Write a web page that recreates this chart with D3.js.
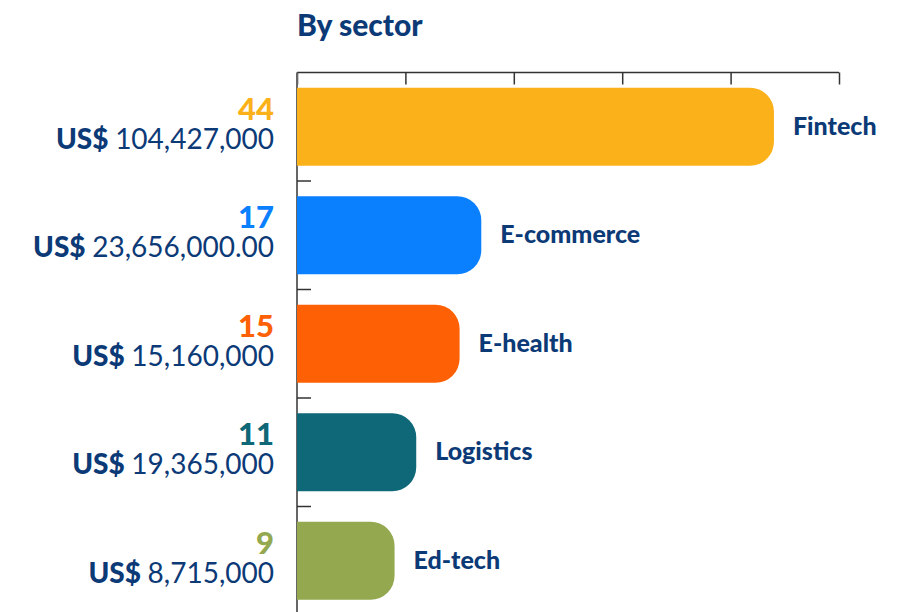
<!DOCTYPE html>
<html>
<head>
<meta charset="utf-8">
<script src="https://cdn.jsdelivr.net/npm/d3@7"></script>
<style>
  html, body { margin: 0; padding: 0; background: #fff; }
  svg { display: block; }
</style>
</head>
<body>
<svg id="chart" width="904" height="612"></svg>
<script>
// Deals by sector: number of deals and total amount raised
const sectors = ["Fintech", "E-commerce", "E-health", "Logistics", "Ed-tech"];
const dealCounts = [44, 17, 15, 11, 9];
const amounts = ["104,427,000", "23,656,000.00", "15,160,000", "19,365,000", "8,715,000"];
const sectorColors = ["#fbb11a", "#0a80fe", "#fe6105", "#0f6878", "#93a84f"];
const xTicks = [0, 10, 20, 30, 40, 50];

const navy = "#0c3a77";
const font = "Lato, 'Noto Sans', sans-serif";
const svg = d3.select("#chart");

const x = d3.scaleLinear().domain([0, 50]).range([297, 839]);
const y = d3.scaleBand().domain(sectors).range([72.5, 615]).paddingInner(0.28).paddingOuter(0.14);

// Title
svg.append("text")
  .attr("x", 297).attr("y", 36)
  .attr("font-family", font)
  .attr("font-weight", 900)
  .attr("font-size", 30)
  .attr("fill", navy)
  .text("By sector");

// Top axis: ticks pointing down into the plot, no labels
const topAxis = d3.axisTop(x).tickValues(xTicks).tickSize(-12).tickFormat("");
const gTop = svg.append("g").attr("transform", "translate(0,72.5)").call(topAxis);
gTop.select(".domain").attr("stroke", "#333").attr("stroke-width", 1.5).attr("d", `M${x(0)},0H${x(50)}`);
gTop.selectAll(".tick line").attr("stroke", "#333").attr("stroke-width", 1.5);

// Left axis line with small ticks between the bands
const gLeft = svg.append("g");
gLeft.append("line")
  .attr("x1", x(0)).attr("x2", x(0))
  .attr("y1", y.range()[0]).attr("y2", 612)
  .attr("stroke", "#666").attr("stroke-width", 2);
const step = y.step();
const boundaries = sectors.slice(1).map(s => y(s) - (step - y.bandwidth()) / 2);
gLeft.selectAll("line.sep").data(boundaries).join("line")
  .attr("class", "sep")
  .attr("x1", x(0)).attr("x2", x(0) + 14)
  .attr("y1", d => d).attr("y2", d => d)
  .attr("stroke", "#333").attr("stroke-width", 1.5);

// Bars with rounded right end, flat left end
const r = 24;
function barPath(x0, x1, y0, h) {
  const rr = Math.min(r, (x1 - x0), h / 2);
  return `M${x0},${y0}H${x1 - rr}A${rr},${rr} 0 0 1 ${x1},${y0 + rr}` +
         `V${y0 + h - rr}A${rr},${rr} 0 0 1 ${x1 - rr},${y0 + h}H${x0}Z`;
}

const data = sectors.map((s, i) => ({ sector: s, count: dealCounts[i], amount: amounts[i], color: sectorColors[i] }));

svg.append("g").selectAll("path").data(data).join("path")
  .attr("d", d => barPath(x(0), x(d.count), y(d.sector), y.bandwidth()))
  .attr("fill", d => d.color);

// Sector names to the right of each bar
svg.append("g").selectAll("text").data(data).join("text")
  .attr("x", d => x(d.count) + 19)
  .attr("y", d => y(d.sector) + y.bandwidth() / 2 + 8)
  .attr("font-family", font)
  .attr("font-weight", 900)
  .attr("font-size", 25)
  .attr("fill", navy)
  .text(d => d.sector);

// Deal count (first line) and amount raised (second line) on the left
const leftLabels = svg.append("g").selectAll("text").data(data).join("text")
  .attr("transform", d => `translate(274,${y(d.sector) + y.bandwidth() / 2})`)
  .attr("text-anchor", "end")
  .attr("font-family", font);

leftLabels.append("tspan")
  .attr("x", 0).attr("y", -7)
  .attr("font-weight", 900)
  .attr("font-size", 31)
  .attr("fill", d => d.color)
  .text(d => d.count);

const amountLine = leftLabels.append("tspan")
  .attr("x", 0).attr("y", 22)
  .attr("font-size", 28)
  .attr("fill", navy);
amountLine.append("tspan").attr("font-weight", 900).text("US$ ");
amountLine.append("tspan").attr("font-weight", 400).text(d => d.amount);
</script>
</body>
</html>
